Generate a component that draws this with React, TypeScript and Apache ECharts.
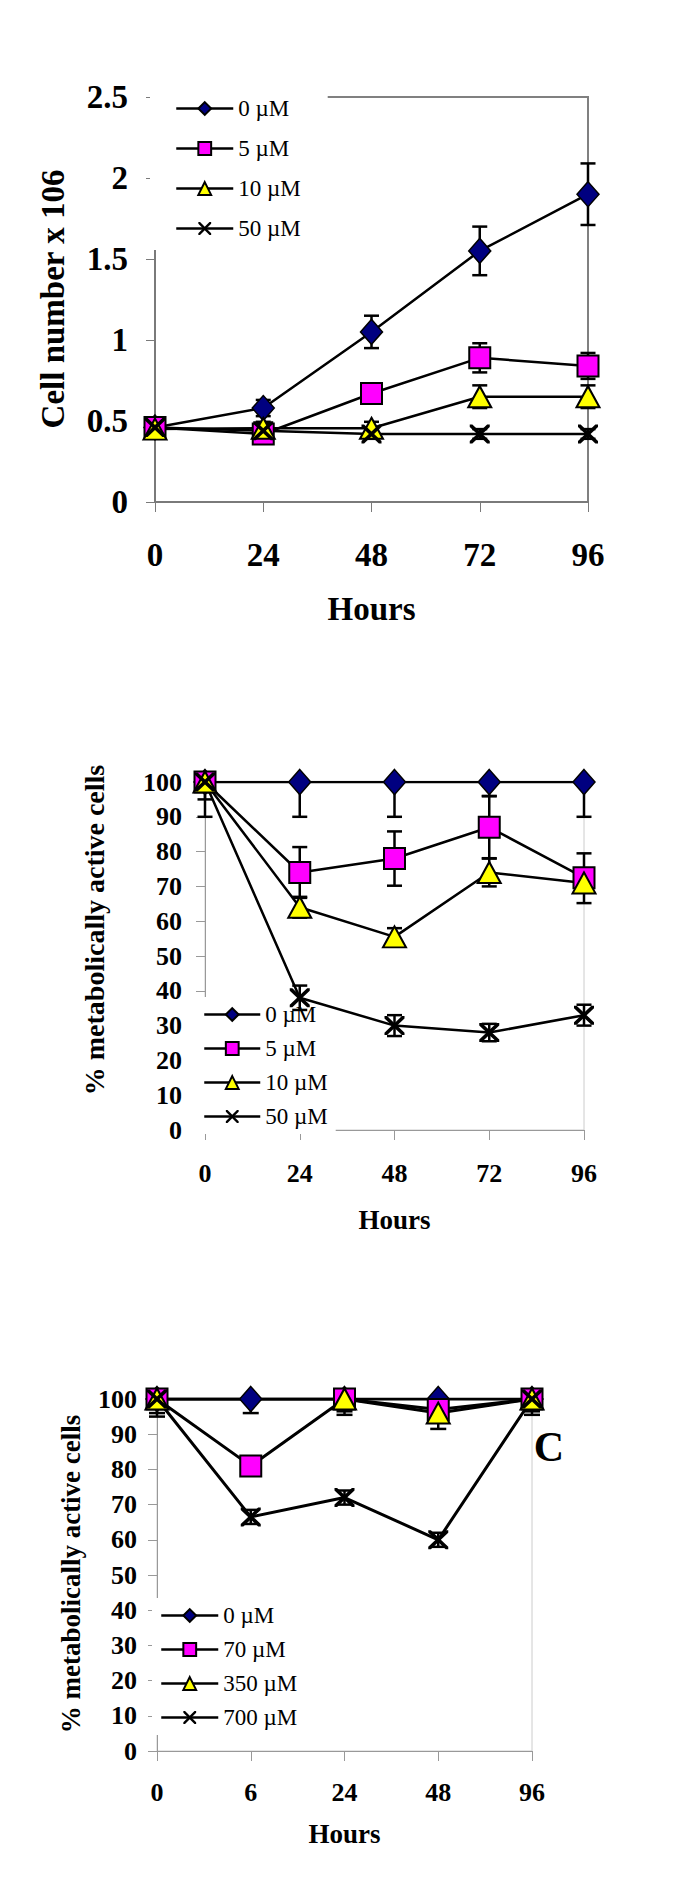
import React, { useEffect, useRef } from "react";
import * as echarts from "echarts";

// ---------- data ----------
const hoursAB = ["0", "24", "48", "72", "96"];
const hoursC = ["0", "6", "24", "48", "96"];

const namesAB = ["0 µM", "5 µM", "10 µM", "50 µM"];
const namesC = ["0 µM", "70 µM", "350 µM", "700 µM"];

const yTicksA = [0, 0.5, 1, 1.5, 2, 2.5];

// Panel A: cell number x 106
const a0 = [0.46, 0.58, 1.05, 1.55, 1.9];
const a0Up = [0.02, 0.05, 0.1, 0.15, 0.19];
const a0Down = [0.02, 0.05, 0.1, 0.15, 0.19];
const a5 = [0.46, 0.42, 0.67, 0.89, 0.84];
const a5Up = [0.02, 0.03, 0.04, 0.09, 0.08];
const a5Down = [0.02, 0.03, 0.04, 0.09, 0.08];
const a10 = [0.45, 0.455, 0.455, 0.65, 0.65];
const a10Up = [0.02, 0.04, 0.04, 0.07, 0.07];
const a10Down = [0.02, 0.04, 0.04, 0.07, 0.07];
const a50 = [0.46, 0.44, 0.42, 0.42, 0.42];
const a50Up = [0.02, 0.03, 0.03, 0.03, 0.03];
const a50Down = [0.02, 0.03, 0.03, 0.03, 0.03];

// Panel B: % metabolically active cells
const b0 = [100, 100, 100, 100, 100];
const b0Up = [0, 0, 0, 0, 0];
const b0Down = [10, 10, 10, 4, 10];
const b5 = [100, 74, 78, 87, 72.5];
const b5Up = [0, 7.3, 7.8, 8.9, 7];
const b5Down = [5, 7.3, 7.8, 8.9, 7.3];
const b10 = [100, 64, 55.5, 74, 71];
const b10Up = [0, 3, 2.5, 4, 2];
const b10Down = [0, 3, 2.5, 4, 2];
const b50 = [100, 38, 30, 28, 33];
const b50Up = [0, 3.5, 3, 2.5, 3];
const b50Down = [0, 3.5, 3, 2.5, 3];

// Panel C: % metabolically active cells
const c0 = [100, 100, 100, 100, 100];
const c0Up = [0, 0, 0, 0, 0];
const c0Down = [4, 4, 3.5, 0, 3.5];
const c70 = [100, 81, 100, 97, 100];
const c70Up = [0, 0, 0, 0, 0];
const c70Down = [5, 0, 4.5, 0, 4.5];
const c350: (number | null)[] = [100, null, 100, 96, 100];
const c350Up = [0, 0, 0, 0, 0];
const c350Down = [0, 0, 0, 4.5, 0];
const c700 = [100, 66.5, 72, 60, 100];
const c700Up = [0, 2, 2, 2, 0];
const c700Down = [0, 2, 2, 2, 0];

// ---------- styles ----------
const FONT = "'Liberation Serif', 'Times New Roman', Times, serif";
const X_PATH =
  "path://M0 0 L2.6 0 L10 7.4 L17.4 0 L20 0 L20 2.6 L12.6 10 L20 17.4 L20 20 L17.4 20 L10 12.6 L2.6 20 L0 20 L0 17.4 L7.4 10 L0 2.6 Z";

type Mk = { symbol: string; size: number | number[]; color: string; border: number };
const markers: Mk[] = [
  { symbol: "diamond", size: [22, 25], color: "#000080", border: 1.5 },
  { symbol: "rect", size: 21, color: "#ff00ff", border: 2 },
  { symbol: "triangle", size: [23, 21], color: "#ffff00", border: 2 },
  { symbol: X_PATH, size: [20, 19], color: "#000000", border: 0 },
];

function errData(vals: (number | null)[], up: number[], down: number[]) {
  const out: number[][] = [];
  vals.forEach((v, i) => {
    if (v == null) return;
    if (up[i] > 0 || down[i] > 0) out.push([i, v - down[i], v + up[i]]);
  });
  return out;
}

function errSeries(idx: number, k: number, vals: (number | null)[], up: number[], down: number[], cap: number) {
  return {
    type: "custom",
    name: "errorbars-" + idx + "-" + k,
    xAxisIndex: idx,
    yAxisIndex: idx,
    z: 2,
    silent: true,
    encode: { x: 0, y: [1, 2] },
    data: errData(vals, up, down),
    renderItem: (params: any, api: any) => {
      const i = api.value(0);
      const lo = api.coord([i, api.value(1)]);
      const hi = api.coord([i, api.value(2)]);
      const h = cap / 2;
      const style = { stroke: "#000", lineWidth: 2.5 };
      return {
        type: "group",
        children: [
          { type: "line", shape: { x1: lo[0], y1: lo[1], x2: hi[0], y2: hi[1] }, style },
          { type: "line", shape: { x1: lo[0] - h, y1: lo[1], x2: lo[0] + h, y2: lo[1] }, style },
          { type: "line", shape: { x1: hi[0] - h, y1: hi[1], x2: hi[0] + h, y2: hi[1] }, style },
        ],
      };
    },
  };
}

function lineSeries(idx: number, name: string, vals: (number | null)[], k: number, lw: number) {
  const m = markers[k];
  return {
    type: "line",
    name,
    xAxisIndex: idx,
    yAxisIndex: idx,
    z: 3,
    data: vals,
    connectNulls: true,
    symbol: m.symbol,
    symbolSize: m.size,
    showAllSymbol: true,
    lineStyle: { color: "#000", width: lw },
    itemStyle: { color: m.color, borderColor: "#000", borderWidth: m.border },
    emphasis: { disabled: true },
  };
}

function xAxis(idx: number, cats: string[], color: string, w: number, fs: number, margin: number, nameFs: number, gap: number) {
  return {
    type: "category",
    gridIndex: idx,
    data: cats,
    boundaryGap: false,
    axisLine: { lineStyle: { color, width: w } },
    axisTick: { show: true, length: 10, lineStyle: { color, width: 1 } },
    axisLabel: { color: "#000", fontFamily: FONT, fontWeight: "bold", fontSize: fs, margin },
    splitLine: { show: false },
    name: "Hours",
    nameLocation: "middle",
    nameGap: gap,
    nameTextStyle: { color: "#000", fontFamily: FONT, fontWeight: "bold", fontSize: nameFs },
  };
}

function yAxis(idx: number, max: number, interval: number, color: string, w: number, fs: number, margin: number) {
  return {
    type: "value",
    gridIndex: idx,
    min: 0,
    max,
    interval,
    axisLine: { show: true, lineStyle: { color, width: w } },
    axisTick: { show: true, length: 9, lineStyle: { color, width: 1 } },
    axisLabel: { color: "#000", fontFamily: FONT, fontWeight: "bold", fontSize: fs, margin },
    splitLine: { show: false },
  };
}

function legend(names: string[], left: number, top: number, itemWidth: number, itemGap: number, z: number) {
  return {
    data: names,
    orient: "vertical",
    left,
    top,
    z,
    itemWidth,
    itemHeight: 16,
    itemGap,
    padding: [6, 8, 6, 8],
    backgroundColor: "#ffffff",
    selectedMode: false,
    lineStyle: { width: 2.5, color: "#000" },
    textStyle: { color: "#000", fontFamily: FONT, fontSize: 23, lineHeight: 22 },
  };
}

export default function App() {
  const ref = useRef<HTMLDivElement>(null);
  useEffect(() => {
    document.body.style.margin = "0";
    const chart = echarts.init(ref.current!, undefined, { renderer: "svg" });
    const seriesA = [a0, a5, a10, a50];
    const seriesB = [b0, b5, b10, b50];
    const seriesC = [c0, c70, c350, c700];
    const errsA = [[a0Up, a0Down], [a5Up, a5Down], [a10Up, a10Down], [a50Up, a50Down]];
    const errsB = [[b0Up, b0Down], [b5Up, b5Down], [b10Up, b10Down], [b50Up, b50Down]];
    const errsC = [[c0Up, c0Down], [c70Up, c70Down], [c350Up, c350Down], [c700Up, c700Down]];

    const series: any[] = [];
    seriesA.forEach((v, k) => series.push(errSeries(0, k, v, errsA[k][0], errsA[k][1], 15)));
    seriesB.forEach((v, k) => series.push(errSeries(1, k, v, errsB[k][0], errsB[k][1], 15)));
    seriesC.forEach((v, k) => series.push(errSeries(2, k, v, errsC[k][0], errsC[k][1], 16)));
    seriesA.forEach((v, k) => series.push(lineSeries(0, namesAB[k], v, k, 2.5)));
    seriesB.forEach((v, k) => series.push(lineSeries(1, namesAB[k], v, k, 2.5)));
    seriesC.forEach((v, k) => series.push(lineSeries(2, namesC[k], v, k, 3)));

    const option: any = {
      animation: false,
      backgroundColor: "#ffffff",
      grid: [
        { left: 155, top: 97, width: 433, height: 405, show: true, borderColor: "#808080", borderWidth: 2, backgroundColor: "transparent" },
        { left: 205, top: 782, width: 379, height: 348, show: true, borderColor: "#cccccc", borderWidth: 1, backgroundColor: "transparent" },
        { left: 157, top: 1399, width: 375, height: 352, show: true, borderColor: "#cccccc", borderWidth: 1, backgroundColor: "transparent" },
      ],
      xAxis: [
        xAxis(0, hoursAB, "#7a7a7a", 2, 33, 36, 33, 90),
        xAxis(1, hoursAB, "#999999", 1, 26, 30, 27, 76),
        xAxis(2, hoursC, "#999999", 1, 26, 28, 27, 69),
      ],
      yAxis: [
        yAxis(0, yTicksA[yTicksA.length - 1], 0.5, "#7a7a7a", 2, 33, 27),
        yAxis(1, 100, 10, "#999999", 1, 26, 23),
        yAxis(2, 100, 10, "#999999", 1, 26, 20),
      ],
      legend: [
        { ...legend(namesAB, 150, 88, 57, 17, 4), padding: [9, 27, 10, 25] },
        legend(namesAB, 195, 997, 56, 11, 1),
        legend(namesC, 152, 1598, 57, 11, 1),
      ],
      graphic: [
        {
          type: "text", x: 53, y: 299, rotation: Math.PI / 2,
          style: { text: "Cell number x 106", fill: "#000", font: `bold 33px ${FONT}`, textAlign: "center", textVerticalAlign: "middle" },
        },
        {
          type: "text", x: 94, y: 930, rotation: Math.PI / 2,
          style: { text: "% metabolically active cells", fill: "#000", font: `bold 28px ${FONT}`, textAlign: "center", textVerticalAlign: "middle" },
        },
        {
          type: "text", x: 71, y: 1574, rotation: Math.PI / 2,
          style: { text: "% metabolically active cells", fill: "#000", font: `bold 27px ${FONT}`, textAlign: "center", textVerticalAlign: "middle" },
        },
        {
          type: "text", x: 549, y: 1447,
          style: { text: "C", fill: "#000", font: `bold 42px ${FONT}`, textAlign: "center", textVerticalAlign: "middle" },
        },
      ],
      series,
    };
    chart.setOption(option);
    return () => chart.dispose();
  }, []);
  return <div ref={ref} style={{ width: 685, height: 1880 }} />;
}
